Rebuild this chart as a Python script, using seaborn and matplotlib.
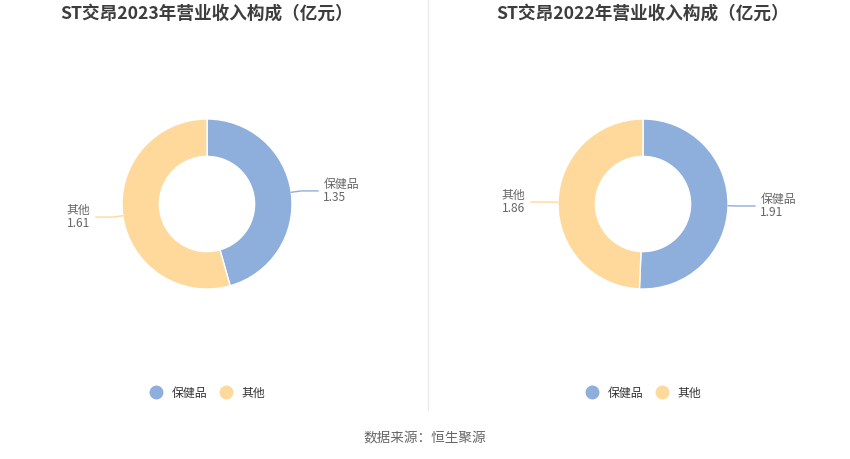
import numpy as np
import matplotlib
matplotlib.use("Agg")
import matplotlib.pyplot as plt
from matplotlib.lines import Line2D
import seaborn as sns

# Revenue composition (100 million CNY)
categories = ["保健品", "其他"]
years = ["2023", "2022"]
rev_2023 = [1.35, 1.61]
rev_2022 = [1.91, 1.86]
company = "ST交昂"
source_text = "数据来源：恒生聚源"

sns.set_theme(style="white")
plt.rcParams["font.family"] = ["Noto Sans CJK SC", "DejaVu Sans"]

palette = ["#8eaedb", "#fed99b"]
W, H = 850, 459
fig = plt.figure(figsize=(W / 100, H / 100), dpi=100)

R_PX = 85          # outer radius in pixels
HALF = 2.0         # axes half-span in data units
AX_PX = 2 * HALF * R_PX


def donut(cx, cy, values, year):
    ax = fig.add_axes([(cx - AX_PX / 2) / W, (H - cy - AX_PX / 2) / H,
                       AX_PX / W, AX_PX / H])
    wedges, _ = ax.pie(values, colors=palette, startangle=90, counterclock=False,
                       radius=1.0,
                       wedgeprops=dict(width=0.44, edgecolor="white", linewidth=1))
    ax.set_xlim(-HALF, HALF)
    ax.set_ylim(-HALF, HALF)
    ax.set_aspect("equal")
    ax.axis("off")
    for w, name, v in zip(wedges, categories, values):
        ang = np.deg2rad((w.theta1 + w.theta2) / 2)
        c, s = np.cos(ang), np.sin(ang)
        p0 = (c * 1.0, s * 1.0)
        p1 = (c * 1.12, s * 1.12)
        side = 1 if c >= 0 else -1
        p2 = (p1[0] + side * 0.2, p1[1])
        ax.plot([p0[0], p1[0], p2[0]], [p0[1], p1[1], p2[1]],
                color=w.get_facecolor(), lw=1, solid_capstyle="round")
        ax.text(p2[0] + side * 0.06, p2[1], f"{name}\n{v:.2f}",
                ha="left" if side > 0 else "right", va="center",
                multialignment="left", fontsize=8.6, color="#666666",
                linespacing=0.95)
    fig.text(cx / W, 1 - 14 / H, f"{company}{year}年营业收入构成（亿元）",
             ha="center", va="center", fontsize=12.7, fontweight="bold",
             color="#3d3d3d")
    handles = [Line2D([], [], marker="o", linestyle="none", markersize=9,
                      markerfacecolor=col, markeredgecolor=col) for col in palette]
    ax.legend(handles, categories, ncol=2, loc="center",
              bbox_to_anchor=(cx / W, 1 - 393 / H), bbox_transform=fig.transFigure,
              frameon=False, handletextpad=0.7, columnspacing=1.0,
              handlelength=1.2, prop={"size": 8.6}, labelcolor="#333333")


donut(207, 204, rev_2023, years[0])
donut(643, 204, rev_2022, years[1])

fig.add_artist(Line2D([428 / W, 428 / W], [1 - 410 / H, 1.0],
                      transform=fig.transFigure, color="#ececec", lw=1))
fig.text(425 / W, 1 - 438 / H, source_text, ha="center", va="center",
         fontsize=9.8, color="#666666")

fig.savefig("out.png", dpi=100, facecolor="white")
